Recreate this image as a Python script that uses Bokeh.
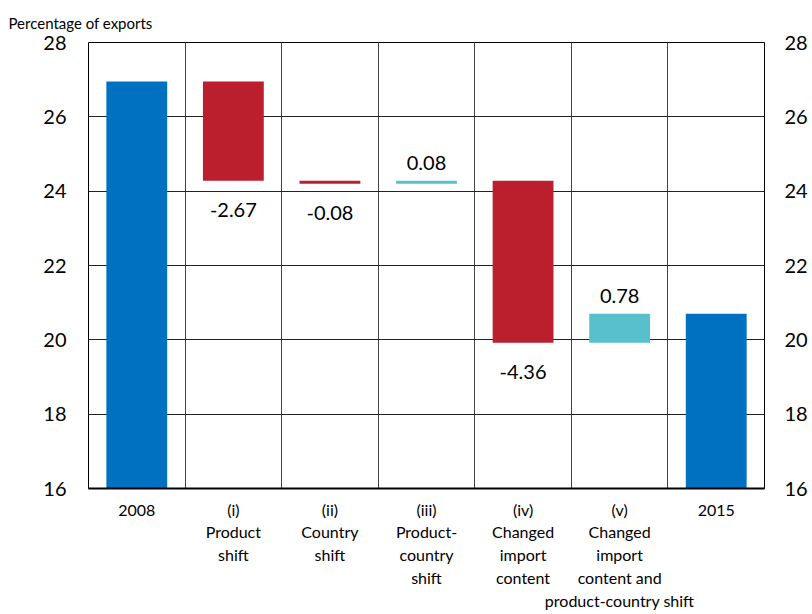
from bokeh.plotting import figure
from bokeh.models import Range1d, FixedTicker, LinearAxis, Title, ColumnDataSource, LabelSet
from bokeh.core.properties import value
from bokeh.embed import file_html
from bokeh.resources import INLINE

# ---- data ----
categories = ["2008", "(i)\nProduct\nshift", "(ii)\nCountry\nshift",
              "(iii)\nProduct-\ncountry\nshift", "(iv)\nChanged\nimport\ncontent",
              "(v)\nChanged\nimport\ncontent and\nproduct-country shift", "2015"]
start_value = 26.95
changes = [-2.67, -0.08, 0.08, -4.36, 0.78]
end_value = 20.70
change_labels = ["-2.67", "-0.08", "0.08", "-4.36", "0.78"]
y_ticks = [16, 18, 20, 22, 24, 26, 28]

BLUE = "#0070C0"
RED = "#BB1E2D"
TEAL = "#58C0CD"
FONT = "Lato"

n = len(categories)
xs = [i + 0.5 for i in range(n)]

# waterfall geometry from data
level = start_value
bottoms, tops, colors = [], [], []
lab_x, lab_y, lab_t, lab_neg = [], [], [], []
for i, c in enumerate(changes):
    new = level + c
    bottoms.append(min(level, new))
    tops.append(max(level, new))
    colors.append(RED if c < 0 else TEAL)
    lab_x.append(xs[i + 1])
    lab_y.append(min(level, new) if c < 0 else max(level, new))
    lab_t.append(change_labels[i])
    lab_neg.append(c < 0)
    level = new

p = figure(width=812, height=614, output_backend="svg", toolbar_location=None,
           x_range=Range1d(0, n), y_range=Range1d(16, 28),
           min_border_left=88, min_border_right=48, min_border_top=41, min_border_bottom=126)

# totals
p.vbar(x=[xs[0], xs[-1]], top=[start_value, end_value], bottom=0, width=0.63,
       color=BLUE, line_color=None)
# changes
src = ColumnDataSource(dict(x=xs[1:-1], bottom=bottoms, top=tops, color=colors))
p.vbar(x="x", top="top", bottom="bottom", width=0.63, fill_color="color",
       line_color=None, source=src)

# value labels
neg = ColumnDataSource(dict(x=[a for a, f in zip(lab_x, lab_neg) if f],
                            y=[a for a, f in zip(lab_y, lab_neg) if f],
                            t=[a for a, f in zip(lab_t, lab_neg) if f]))
pos = ColumnDataSource(dict(x=[a for a, f in zip(lab_x, lab_neg) if not f],
                            y=[a for a, f in zip(lab_y, lab_neg) if not f],
                            t=[a for a, f in zip(lab_t, lab_neg) if not f]))
p.add_layout(LabelSet(x="x", y="y", text="t", source=neg, y_offset=-22,
                      text_align="center", text_baseline="top",
                      text_font=value(FONT), text_font_size="20px", text_color="black"))
p.add_layout(LabelSet(x="x", y="y", text="t", source=pos, y_offset=11,
                      text_align="center", text_baseline="bottom",
                      text_font=value(FONT), text_font_size="20px", text_color="black"))

# axes
p.xaxis.ticker = FixedTicker(ticks=xs)
p.xaxis.major_label_overrides = {x: c for x, c in zip(xs, categories)}
p.xaxis.major_tick_line_color = None
p.xaxis.minor_tick_line_color = None
p.xaxis.axis_line_color = "black"
p.xaxis.axis_line_width = 2
p.xaxis.major_label_text_font = FONT
p.xaxis.major_label_text_font_size = "16px"
p.xaxis.major_label_text_color = "black"
p.xaxis.major_label_standoff = 5

p.yaxis.ticker = FixedTicker(ticks=y_ticks)
p.yaxis.major_tick_line_color = None
p.yaxis.minor_tick_line_color = None
p.yaxis.axis_line_color = None
p.yaxis.major_label_text_font = FONT
p.yaxis.major_label_text_font_size = "20px"
p.yaxis.major_label_text_color = "black"
p.yaxis.major_label_standoff = 16

ry = LinearAxis(ticker=FixedTicker(ticks=y_ticks))
ry.major_tick_line_color = None
ry.minor_tick_line_color = None
ry.axis_line_color = None
ry.major_label_text_font = FONT
ry.major_label_text_font_size = "20px"
ry.major_label_text_color = "black"
ry.major_label_standoff = 14
p.add_layout(ry, "right")

# grids
p.xgrid.ticker = FixedTicker(ticks=list(range(1, n)))
p.xgrid.grid_line_color = "#444444"
p.xgrid.grid_line_width = 1
p.ygrid.ticker = FixedTicker(ticks=y_ticks[1:-1])
p.ygrid.grid_line_color = "#222222"
p.ygrid.grid_line_width = 1
p.outline_line_color = "black"
p.outline_line_width = 1

t = Title(text="Percentage of exports", align="left", offset=-80,
          text_font=FONT, text_font_size="15px", text_font_style="normal",
          text_color="black", standoff=22)
p.add_layout(t, "above")

open("out.html", "w").write(file_html(p, INLINE))
